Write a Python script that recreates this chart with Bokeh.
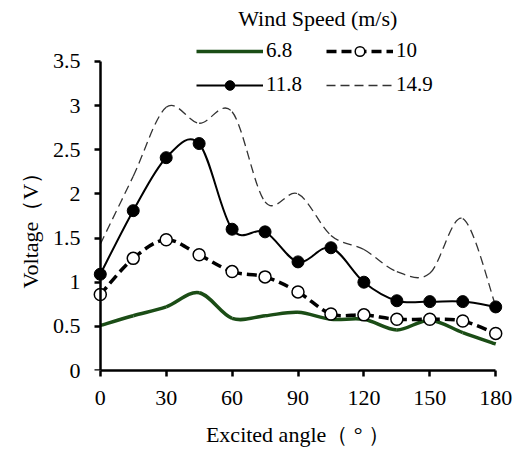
import numpy as np
from bokeh.plotting import figure
from bokeh.models import (Range1d, FixedTicker, Legend, LegendItem, Label,
                          ColumnDataSource, LinearAxis, Title)
from bokeh.embed import file_html
from bokeh.resources import INLINE

# ---------------- data ----------------
angles = [0, 15, 30, 45, 60, 75, 90, 105, 120, 135, 150, 165, 180]
v_6_8 = [0.51, 0.62, 0.72, 0.88, 0.59, 0.62, 0.66, 0.58, 0.58, 0.46, 0.57, 0.43, 0.30]
v_10 = [0.86, 1.27, 1.48, 1.31, 1.12, 1.06, 0.89, 0.64, 0.63, 0.58, 0.58, 0.56, 0.42]
v_11_8 = [1.09, 1.81, 2.41, 2.57, 1.60, 1.57, 1.23, 1.39, 1.00, 0.79, 0.78, 0.78, 0.72]
v_14_9 = [1.43, 2.20, 2.98, 2.80, 2.93, 1.91, 2.00, 1.53, 1.37, 1.12, 1.10, 1.72, 0.73]

x_ticks = [0, 30, 60, 90, 120, 150, 180]
x_tick_labels = ["0", "30", "60", "90", "120", "150", "180"]
y_ticks = [0, 0.5, 1, 1.5, 2, 2.5, 3, 3.5]
y_tick_labels = ["0", "0.5", "1", "1.5", "2", "2.5", "3", "3.5"]

series_names = ["6.8", "10", "11.8", "14.9"]
legend_title = "Wind Speed (m/s)"
x_title = "Excited angle（ ° ）"
y_title = "Voltage（V）"

FONT = "Liberation Serif"


def smooth_source(xs, ys):
    """Bezier segments through the data points (Excel-like smoothed line)."""
    x = np.asarray(xs, float)
    y = np.asarray(ys, float)
    n = len(x)
    xp = np.concatenate([[x[0]], x, [x[-1]]])
    yp = np.concatenate([[y[0]], y, [y[-1]]])
    return ColumnDataSource(dict(
        x0=x[:-1], y0=y[:-1], x1=x[1:], y1=y[1:],
        cx0=x[:-1] + (xp[2:n + 1] - xp[0:n - 1]) / 6.0,
        cy0=y[:-1] + (yp[2:n + 1] - yp[0:n - 1]) / 6.0,
        cx1=x[1:] - (xp[3:n + 2] - xp[1:n]) / 6.0,
        cy1=y[1:] - (yp[3:n + 2] - yp[1:n]) / 6.0,
    ))


p = figure(width=526, height=452, output_backend="svg", toolbar_location=None,
           x_range=Range1d(-4, 184), y_range=Range1d(0, 4.19),
           min_border_left=91, min_border_right=22, min_border_top=0,
           min_border_bottom=82)
p.outline_line_color = None
p.grid.visible = False
p.background_fill_color = "white"
p.border_fill_color = "white"

GREEN = "#1b4d16"

bez_kw = dict(x0="x0", y0="y0", x1="x1", y1="y1",
              cx0="cx0", cy0="cy0", cx1="cx1", cy1="cy1")

# lines
p.bezier(source=smooth_source(angles, v_6_8), line_color=GREEN, line_width=3.5, **bez_kw)
p.bezier(source=smooth_source(angles, v_14_9), line_color="#333333", line_width=1.3,
         line_dash="9 5", **bez_kw)
p.bezier(source=smooth_source(angles, v_10), line_color="black", line_width=3.5,
         line_dash="10 5", **bez_kw)
p.bezier(source=smooth_source(angles, v_11_8), line_color="black", line_width=2, **bez_kw)

# markers
s10 = p.scatter(angles, v_10, size=12, marker="circle", fill_color="white",
                line_color="black", line_width=1.5)
s118 = p.scatter(angles, v_11_8, size=12, marker="circle", fill_color="black",
                 line_color="black")

# placeholder line renderers (no visible data) for the legend swatches
nan2 = [np.nan, np.nan]
l68 = p.line(nan2, nan2, line_color=GREEN, line_width=3.5)
l10 = p.line(nan2, nan2, line_color="black", line_width=3.5, line_dash="10 5")
l118 = p.line(nan2, nan2, line_color="black", line_width=2)
l149 = p.line(nan2, nan2, line_color="#333333", line_width=1.3, line_dash="9 5")

# axes
xa = p.xaxis[0]
xa.ticker = FixedTicker(ticks=x_ticks)
xa.major_label_overrides = {t: s for t, s in zip(x_ticks, x_tick_labels)}
xa.bounds = (0, 180)

# y axis: labels in the left panel, line + ticks drawn at x = 0
ya = p.yaxis[0]
ya.ticker = FixedTicker(ticks=y_ticks)
ya.major_label_overrides = {t: s for t, s in zip(y_ticks, y_tick_labels)}
ya.axis_line_color = None
ya.major_tick_line_color = None
ya.major_tick_in = 0
ya.major_tick_out = 0
ya.minor_tick_line_color = None

ya2 = LinearAxis(ticker=FixedTicker(ticks=y_ticks),
                 major_label_overrides={t: "" for t in y_ticks})
ya2.bounds = (0, 3.5)
ya2.fixed_location = 0
p.add_layout(ya2, "left")

for ax in (xa, ya2):
    ax.axis_line_width = 2.5
    ax.axis_line_color = "black"
    ax.major_tick_line_width = 2.5
    ax.major_tick_line_color = "black"
    ax.major_tick_in = 0
    ax.major_tick_out = 6
    ax.minor_tick_line_color = None
ya2.major_label_standoff = 0

for ax in (xa, ya):
    ax.major_label_text_font = FONT
    ax.major_label_text_font_size = "22px"
    ax.major_label_text_color = "black"
    ax.axis_label_text_font = FONT
    ax.axis_label_text_font_size = "22px"
    ax.axis_label_text_font_style = "normal"
    ax.axis_label_text_color = "black"

xa.axis_label = x_title
xa.major_label_standoff = 14
xa.axis_label_standoff = 14
ya.major_label_standoff = 11

# y-axis title as a side title, placed along the 0..3.5 span
p.add_layout(Title(text=y_title, align="left", offset=82, standoff=14,
                   text_font=FONT, text_font_size="22px",
                   text_font_style="normal", text_color="black"), "left")

# legends (2 x 2 grid)
legend_items = [
    (series_names[0], [l68], (105, 307)),
    (series_names[1], [l10, s10], (235, 307)),
    (series_names[2], [l118, s118], (105, 273)),
    (series_names[3], [l149], (235, 273)),
]
for name, rends, loc in legend_items:
    lg = Legend(items=[LegendItem(label=name, renderers=rends)], location=loc,
                padding=0, margin=0, border_line_color=None,
                background_fill_alpha=0, glyph_width=67, glyph_height=24,
                label_height=24, label_standoff=3,
                label_text_font=FONT, label_text_font_size="21px",
                label_text_color="black")
    p.add_layout(lg, "center")

p.add_layout(Label(x=99, y=3.99, text=legend_title, text_font=FONT,
                   text_font_size="22px", text_align="center",
                   text_baseline="middle", text_color="black"))

open("out.html", "w").write(file_html(p, INLINE))
